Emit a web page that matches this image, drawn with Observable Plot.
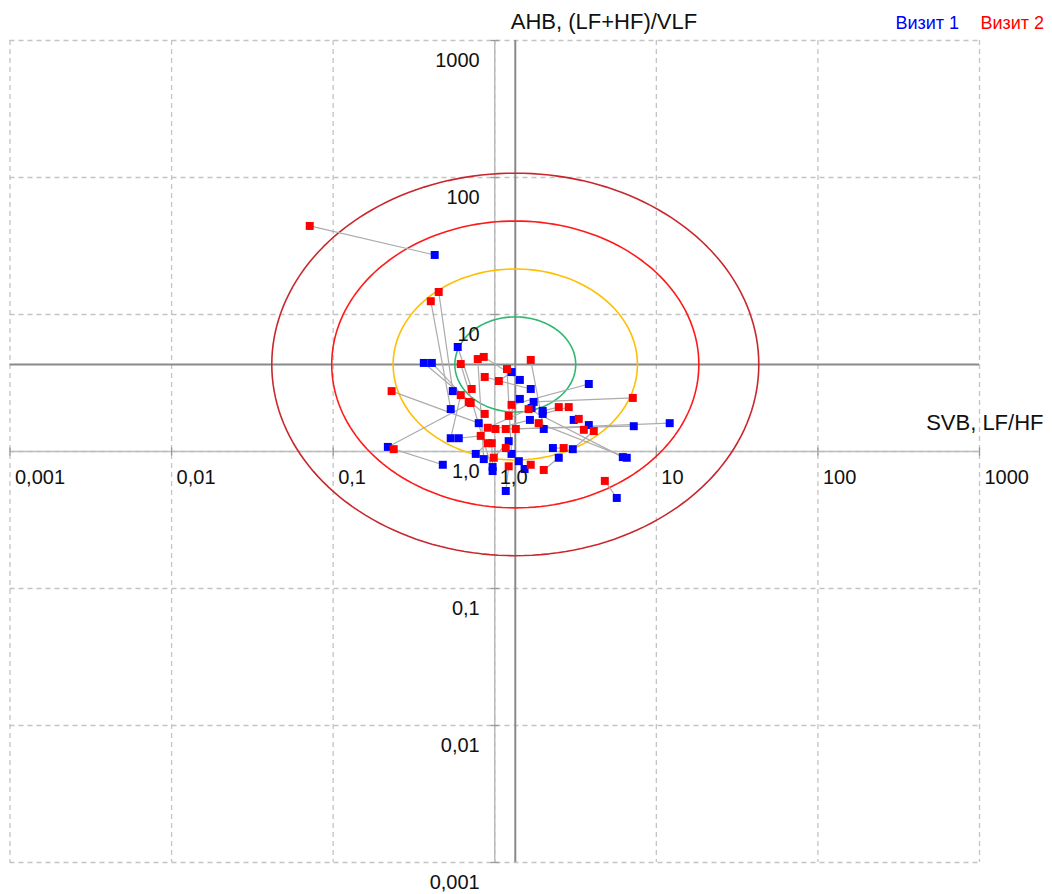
<!DOCTYPE html>
<html>
<head>
<meta charset="utf-8">
<script src="https://cdn.jsdelivr.net/npm/d3@7"></script>
<script src="https://cdn.jsdelivr.net/npm/@observablehq/plot@0.6"></script>
<style>
  html, body { margin: 0; padding: 0; background: #fff; }
  svg { display: block; }
</style>
</head>
<body>
<script>
// ---- data ----
const decades = [0.001, 0.01, 0.1, 1, 10, 100, 1000];
const tickLabels = ["0,001", "0,01", "0,1", "1,0", "10", "100", "1000"];
const xTitle = "SVB, LF/HF";
const yTitle = "АНВ, (LF+HF)/VLF";
const seriesNames = ["Визит 1", "Визит 2"];
const seriesColors = ["#0000ff", "#ff0000"];

// Visit 1 (blue) and Visit 2 (red); index i of both lists is the same subject
const visit1X = [0.425, 0.590, 0.364, 0.408, 0.550, 0.534, 0.796, 0.534, 0.599, 0.218,
  0.763, 0.855, 0.97, 1.27, 1.41, 0.477, 1.53, 1.17, 1.27, 1.43,
  1.67, 3.82, 1.43, 1.74, 1.98, 1.98, 1.65, 3.08, 3.82, 7.25,
  12.1, 2.01, 2.29, 3.04, 6.56, 6.20, 2.49, 1.22, 5.69, 1.69, 0.97];
const visit1Y = [27.2, 5.79, 4.43, 4.43, 2.76, 2.04, 1.61, 1.25, 1.25, 1.08,
  0.96, 0.88, 0.77, 0.96, 0.85, 0.80, 0.745, 0.515, 3.80, 3.33,
  2.86, 3.11, 2.42, 2.30, 1.98, 1.88, 1.70, 1.70, 1.56, 1.53,
  1.61, 1.46, 1.06, 1.04, 0.90, 0.91, 0.90, 1.19, 0.458, 2.08, 0.72];
const visit2X = [0.0716, 0.72, 0.867, 0.69, 0.45, 0.402, 0.23, 0.616, 0.819, 0.71,
  0.905, 0.785, 0.958, 1.19, 1.17, 0.237, 1.67, 1.22, 1.06, 0.855,
  0.867, 1.27, 1.22, 7.15, 2.49, 2.87, 1.01, 3.31, 3.56, 1.17,
  1.35, 1.67, 2.67, 4.10, 1.87, 1.62, 2.01, 0.986, 4.80, 0.905, 0.616];
const visit2Y = [44.3, 2.86, 1.88, 2.30, 14.6, 12.5, 2.76, 2.58, 1.30, 2.26,
  1.15, 4.73, 1.15, 4.00, 1.06, 1.04, 0.80, 0.78, 3.27, 4.90,
  3.50, 2.19, 1.82, 2.46, 2.11, 2.11, 1.46, 1.73, 1.44, 1.46,
  1.46, 4.66, 1.06, 1.41, 1.61, 2.04, 0.733, 0.90, 0.61, 1.49, 4.35];

// centre of the zones and zone half-axes (in decades)
const centerX = 1.34;
const centerY = 4.32;
const zoneRadiusX = [0.374, 0.756, 1.136, 1.507];
const zoneRadiusY = [0.347, 0.697, 1.047, 1.396];
const zoneColors = ["#2fb873", "#ffbf00", "#ff1a1a", "#c8282d"];

// ---- build tables ----
const pairs = visit1X.map((x, i) => ({x1: x, y1: visit1Y[i], x2: visit2X[i], y2: visit2Y[i]}));
const pts1 = visit1X.map((x, i) => ({x, y: visit1Y[i]}));
const pts2 = visit2X.map((x, i) => ({x, y: visit2Y[i]}));
const zonePts = [];
zoneRadiusX.forEach((rx, k) => {
  const ry = zoneRadiusY[k];
  for (let a = 0; a <= 360; a += 2) {
    const t = a * Math.PI / 180;
    zonePts.push({k, x: centerX * Math.pow(10, rx * Math.cos(t)), y: centerY * Math.pow(10, ry * Math.sin(t))});
  }
});
const labels = decades.map((d, i) => ({d, label: tickLabels[i]}));

const vTick = {draw(ctx) { ctx.moveTo(0, -4); ctx.lineTo(0, 4); }};
const hTick = {draw(ctx) { ctx.moveTo(-4, 0); ctx.lineTo(4, 0); }};

const chart = Plot.plot({
  width: 1052,
  height: 894,
  marginLeft: 9.5,
  marginRight: 73,
  marginTop: 40,
  marginBottom: 32,
  x: {type: "log", domain: [0.001, 1000], axis: null},
  y: {type: "log", domain: [0.001, 1000], axis: null},
  style: {fontFamily: "'Liberation Sans', Arial, sans-serif", background: "#fff", color: "#111"},
  marks: [
    // dashed grid
    Plot.ruleX(decades, {stroke: "#c4c4c4", strokeWidth: 1.3, strokeDasharray: "5,4"}),
    Plot.ruleY(decades, {stroke: "#c4c4c4", strokeWidth: 1.3, strokeDasharray: "5,4"}),
    // axes through 1
    Plot.ruleY([1], {stroke: "#bdbdbd", strokeWidth: 1.6}),
    Plot.ruleX([1], {stroke: "#bdbdbd", strokeWidth: 1.6}),
    Plot.dot(decades, {x: d => d, y: 1, symbol: vTick, stroke: "#999", strokeWidth: 1.3, fill: "none"}),
    Plot.dot(decades, {x: 1, y: d => d, symbol: hTick, stroke: "#999", strokeWidth: 1.3, fill: "none"}),
    // centre lines
    Plot.ruleY([centerY], {stroke: "#8a8a8a", strokeWidth: 2}),
    Plot.ruleX([centerX], {stroke: "#8a8a8a", strokeWidth: 2}),
    // zones
    Plot.line(zonePts, {x: "x", y: "y", z: "k", stroke: d => zoneColors[d.k], strokeWidth: 1.6, curve: "linear-closed"}),
    // pair links
    Plot.link(pairs, {x1: "x1", y1: "y1", x2: "x2", y2: "y2", stroke: "#ababab", strokeWidth: 1.2}),
    // points
    Plot.dot(pts1, {x: "x", y: "y", symbol: "square", r: 4.5, fill: seriesColors[0]}),
    Plot.dot(pts2, {x: "x", y: "y", symbol: "square", r: 4.5, fill: seriesColors[1]}),
    // tick labels
    Plot.text(labels, {x: "d", y: 1, text: "label", textAnchor: "start", lineAnchor: "bottom", dx: 5, dy: 32.5, fontSize: 20, fill: "#111"}),
    Plot.text(labels, {x: 1, y: "d", text: "label", textAnchor: "end", lineAnchor: "bottom", dx: -15, dy: 26, fontSize: 20, fill: "#111"}),
    // axis titles
    Plot.text([xTitle], {x: 1000, y: 1, text: d => d, textAnchor: "end", lineAnchor: "bottom", dx: 64, dy: -21.5, fontSize: 22, fill: "#111"}),
    Plot.text([yTitle], {x: 1, y: 1000, text: d => d, textAnchor: "start", lineAnchor: "bottom", dx: 16, dy: -12, fontSize: 22, fill: "#111"}),
    // legend
    Plot.text([seriesNames[0]], {frameAnchor: "top-left", text: d => d, textAnchor: "start", lineAnchor: "bottom", dx: 885.5, dy: -12, fontSize: 18, fill: seriesColors[0]}),
    Plot.text([seriesNames[1]], {frameAnchor: "top-left", text: d => d, textAnchor: "start", lineAnchor: "bottom", dx: 970.5, dy: -12, fontSize: 18, fill: seriesColors[1]})
  ]
});
document.body.appendChild(chart);
</script>
</body>
</html>
